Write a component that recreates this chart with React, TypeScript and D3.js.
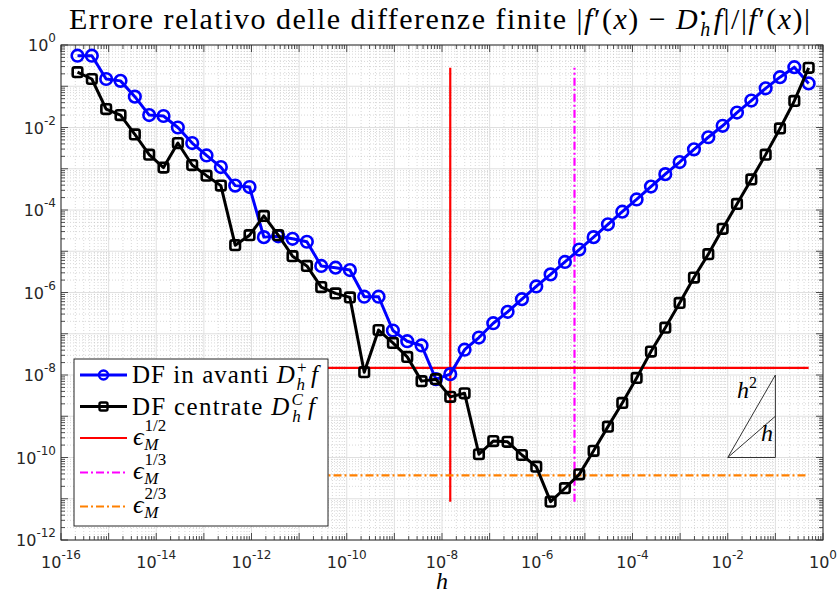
import React from "react";
import * as d3 from "d3";

// h = 2^k, k = -52 ... -1
const hExponents = [-52,-51,-50,-49,-48,-47,-46,-45,-44,-43,-42,-41,-40,-39,-38,-37,-36,-35,-34,-33,-32,-31,-30,-29,-28,-27,-26,-25,-24,-23,-22,-21,-20,-19,-18,-17,-16,-15,-14,-13,-12,-11,-10,-9,-8,-7,-6,-5,-4,-3,-2,-1];

// forward differences error
const errForward = [5.5e-1,5.5e-1,1.5e-1,1.35e-1,5.6e-2,2.0e-2,1.9e-2,1.0e-2,4.2e-3,2.1e-3,1.1e-3,3.9e-4,3.6e-4,2.2e-5,2.3e-5,2.0e-5,1.7e-5,4.4e-6,4.0e-6,3.5e-6,7.9e-7,7.9e-7,1.2e-7,6.6e-8,5.2e-8,7.9e-9,1.05e-8,4.1e-8,8.1e-8,1.8e-7,3.4e-7,6.9e-7,1.4e-6,2.75e-6,5.5e-6,1.1e-5,2.2e-5,4.5e-5,9.1e-5,1.8e-4,3.7e-4,7.4e-4,1.45e-3,2.95e-3,5.8e-3,1.1e-2,2.3e-2,4.5e-2,8.9e-2,1.66e-1,2.9e-1,1.17e-1];

// centred differences error
const errCentred = [2.2e-1,1.5e-1,2.8e-2,2.0e-2,6.8e-3,2.2e-3,1.07e-3,4.2e-3,1.23e-3,6.8e-4,3.9e-4,1.4e-5,2.45e-5,7.2e-5,2.45e-5,7.6e-6,4.4e-6,1.35e-6,9.5e-7,7.6e-7,1.17e-8,1.23e-7,6.0e-8,2.75e-8,7.1e-9,7.9e-9,2.95e-9,3.6e-9,1.2e-10,2.5e-10,2.4e-10,1.15e-10,6.0e-11,8.5e-12,1.8e-11,3.9e-11,1.45e-10,5.6e-10,2.1e-9,8.5e-9,3.7e-8,1.4e-7,5.6e-7,2.3e-6,8.5e-6,3.5e-5,1.4e-4,5.5e-4,2.2e-3,9.5e-3,4.4e-2,2.8e-1];

const epsM = 2.220446049250313e-16;
const epsHalf = Math.sqrt(epsM);
const epsThird = Math.cbrt(epsM);
const epsTwoThirds = Math.pow(epsM, 2 / 3);

const xTickExps = [-16,-14,-12,-10,-8,-6,-4,-2,0];
const yTickExps = [0,-2,-4,-6,-8,-10,-12];

// slope triangle (reference lines h and h^2)
const triX = [1e-2, 1e-1];
const triY = [1e-10, 1e-9, 1e-8];

const SERIF = "'Liberation Serif', 'DejaVu Serif', serif";
const SANS = "'DejaVu Sans', 'Liberation Sans', sans-serif";

export default function App() {
  const W = 839, H = 594;
  const x = d3.scaleLog().domain([1e-16, 1]).range([61, 823]);
  const y = d3.scaleLog().domain([1e-12, 1]).range([540, 45]);
  const hs = hExponents.map((e) => Math.pow(2, e));

  const line = d3.line<number>()
    .x((_, i) => x(hs[i]))
    .y((v) => y(v));

  const minC = d3.min(errCentred)!;
  const maxC = d3.max(errCentred)!;
  const hMin = hs[0], hMax = hs[hs.length - 1];

  const minorX: number[] = [];
  for (let e = -16; e < 0; e++) for (let m = 2; m <= 9; m++) minorX.push(m * Math.pow(10, e));
  const minorY: number[] = [];
  for (let e = -12; e < 0; e++) for (let m = 2; m <= 9; m++) minorY.push(m * Math.pow(10, e));
  const majorX: number[] = [];
  for (let e = -16; e <= 0; e++) majorX.push(Math.pow(10, e));
  const majorY: number[] = [];
  for (let e = -12; e <= 0; e++) majorY.push(Math.pow(10, e));

  const [x0, x1] = x.range();
  const [y0, y1] = [y(1e-12), y(1)];
  const axisColor = "#262626";

  const sq = 4.8;
  const dashDot = "8,3,2,3";

  return (
    <svg width={W} height={H} style={{ position: "absolute", left: 0, top: 0, background: "#fff" }}>
      <rect x={0} y={0} width={W} height={H} fill="#fff" />
      {/* minor grid */}
      <g stroke="#bdbdbd" strokeWidth={0.6} strokeDasharray="1,2">
        {minorX.map((v, i) => <line key={"mx" + i} x1={x(v)} x2={x(v)} y1={y1} y2={y0} />)}
        {minorY.map((v, i) => <line key={"my" + i} x1={x0} x2={x1} y1={y(v)} y2={y(v)} />)}
      </g>
      {/* major grid */}
      <g stroke="#dcdcdc" strokeWidth={0.9}>
        {majorX.map((v, i) => <line key={"gx" + i} x1={x(v)} x2={x(v)} y1={y1} y2={y0} />)}
        {majorY.map((v, i) => <line key={"gy" + i} x1={x0} x2={x1} y1={y(v)} y2={y(v)} />)}
      </g>
      {/* ticks */}
      <g stroke={axisColor} strokeWidth={0.8}>
        {majorX.map((v, i) => (
          <g key={"tx" + i}>
            <line x1={x(v)} x2={x(v)} y1={y0} y2={y0 - 7} />
            <line x1={x(v)} x2={x(v)} y1={y1} y2={y1 + 7} />
          </g>
        ))}
        {minorX.map((v, i) => (
          <g key={"tmx" + i}>
            <line x1={x(v)} x2={x(v)} y1={y0} y2={y0 - 4} />
            <line x1={x(v)} x2={x(v)} y1={y1} y2={y1 + 4} />
          </g>
        ))}
        {majorY.map((v, i) => (
          <g key={"ty" + i}>
            <line x1={x0} x2={x0 + 7} y1={y(v)} y2={y(v)} />
            <line x1={x1} x2={x1 - 7} y1={y(v)} y2={y(v)} />
          </g>
        ))}
        {minorY.map((v, i) => (
          <g key={"tmy" + i}>
            <line x1={x0} x2={x0 + 4} y1={y(v)} y2={y(v)} />
            <line x1={x1} x2={x1 - 4} y1={y(v)} y2={y(v)} />
          </g>
        ))}
      </g>
      {/* tick labels */}
      <g fill={axisColor} fontFamily={SANS} fontSize={16}>
        {xTickExps.map((e) => (
          <text key={"xl" + e} x={x(Math.pow(10, e))} y={568} textAnchor="middle">
            10<tspan dy={-9} fontSize={12}>{e}</tspan>
          </text>
        ))}
        {yTickExps.map((e) => (
          <text key={"yl" + e} x={56} y={y(Math.pow(10, e)) + 6} textAnchor="end">
            10<tspan dy={-9} fontSize={12}>{e}</tspan>
          </text>
        ))}
      </g>

      {/* reference lines */}
      <line x1={x(epsHalf)} x2={x(epsHalf)} y1={y(minC)} y2={y(maxC)} stroke="#ff0000" strokeWidth={2.2} />
      <line x1={x(epsThird)} x2={x(epsThird)} y1={y(minC)} y2={y(maxC)} stroke="#ff00ff" strokeWidth={2.2} strokeDasharray={dashDot} />
      <line x1={x(hMin)} x2={x(hMax)} y1={y(epsHalf)} y2={y(epsHalf)} stroke="#ff0000" strokeWidth={2.2} />
      <line x1={x(hMin)} x2={x(hMax)} y1={y(epsTwoThirds)} y2={y(epsTwoThirds)} stroke="#ff8000" strokeWidth={2.2} strokeDasharray={dashDot} />

      {/* series */}
      <path d={line(errForward) || ""} fill="none" stroke="#0000ff" strokeWidth={3} strokeLinejoin="round" />
      {errForward.map((v, i) => (
        <circle key={"cf" + i} cx={x(hs[i])} cy={y(v)} r={5.8} fill="none" stroke="#0000ff" strokeWidth={2.6} />
      ))}
      <path d={line(errCentred) || ""} fill="none" stroke="#000" strokeWidth={3} strokeLinejoin="round" />
      {errCentred.map((v, i) => (
        <rect key={"cc" + i} x={x(hs[i]) - sq} y={y(v) - sq} width={2 * sq} height={2 * sq} rx={2} fill="none" stroke="#000" strokeWidth={2.6} />
      ))}

      {/* slope triangle */}
      <g stroke="#333" strokeWidth={1} fill="none">
        <line x1={x(triX[0])} y1={y(triY[0])} x2={x(triX[1])} y2={y(triY[0])} />
        <line x1={x(triX[1])} y1={y(triY[0])} x2={x(triX[1])} y2={y(triY[2])} />
        <line x1={x(triX[0])} y1={y(triY[0])} x2={x(triX[1])} y2={y(triY[2])} />
        <line x1={x(triX[0])} y1={y(triY[0])} x2={x(triX[1])} y2={y(triY[1])} />
      </g>
      <text x={737} y={398} fontFamily={SERIF} fontSize={24} fontStyle="italic" fill="#000">
        h<tspan dy={-10} fontSize={16} fontStyle="normal">2</tspan>
      </text>
      <text x={761} y={441} fontFamily={SERIF} fontSize={24} fontStyle="italic" fill="#000">h</text>

      {/* axes box */}
      <rect x={x0} y={y1} width={x1 - x0} height={y0 - y1} fill="none" stroke={axisColor} strokeWidth={1} />

      {/* title */}
      <text x={69} y={29} textLength={741} lengthAdjust="spacing" fontFamily={SERIF} fontSize={30} fill="#000">
        Errore relativo delle differenze finite |<tspan fontStyle="italic">f</tspan>′(<tspan fontStyle="italic">x</tspan>) − <tspan fontStyle="italic">D</tspan>
        <tspan dx={1} dy={-10} fontSize={16}>•</tspan>
        <tspan dx={-7} dy={17} fontSize={20} fontStyle="italic">h</tspan>
        <tspan dx={2} dy={-7} fontStyle="italic">f</tspan>|/|<tspan fontStyle="italic">f</tspan>′(<tspan fontStyle="italic">x</tspan>)|
      </text>

      {/* x label */}
      <text x={442} y={589} textAnchor="middle" fontFamily={SERIF} fontSize={24} fontStyle="italic" fill="#000">h</text>

      {/* legend */}
      <g>
        <rect x={74} y={359} width={254} height={167} fill="#fff" stroke={axisColor} strokeWidth={1} />
        <line x1={80} x2={127} y1={375} y2={375} stroke="#0000ff" strokeWidth={3} />
        <circle cx={103.5} cy={375} r={4.5} fill="none" stroke="#0000ff" strokeWidth={2.4} />
        <text x={132} y={383} textLength={186} lengthAdjust="spacing" fontFamily={SERIF} fontSize={25} fill="#000">
          DF in avanti <tspan fontStyle="italic">D</tspan>
          <tspan dx={1} dy={-10} fontSize={17}>+</tspan>
          <tspan dx={-11} dy={17} fontSize={17} fontStyle="italic">h</tspan>
          <tspan dx={5} dy={-7} fontStyle="italic">f</tspan>
        </text>
        <line x1={80} x2={127} y1={406.5} y2={406.5} stroke="#000" strokeWidth={3} />
        <rect x={103.5 - 4} y={406.5 - 4} width={8} height={8} rx={1.5} fill="none" stroke="#000" strokeWidth={2.4} />
        <text x={132} y={415} textLength={183} lengthAdjust="spacing" fontFamily={SERIF} fontSize={25} fill="#000">
          DF centrate <tspan fontStyle="italic">D</tspan>
          <tspan dx={1} dy={-10} fontSize={17} fontStyle="italic">C</tspan>
          <tspan dx={-12} dy={17} fontSize={17} fontStyle="italic">h</tspan>
          <tspan dx={6} dy={-7} fontStyle="italic">f</tspan>
        </text>
        <line x1={80} x2={127} y1={438} y2={438} stroke="#ff0000" strokeWidth={2.2} />
        <text x={133} y={445} fontFamily={SERIF} fontSize={26} fontStyle="italic" fill="#000">
          ϵ<tspan dx={1} dy={-14} fontSize={17} fontStyle="normal">1/2</tspan>
          <tspan dx={-22} dy={19} fontSize={17}>M</tspan>
        </text>
        <line x1={80} x2={127} y1={472.5} y2={472.5} stroke="#ff00ff" strokeWidth={2.2} strokeDasharray={dashDot} />
        <text x={133} y={479} fontFamily={SERIF} fontSize={26} fontStyle="italic" fill="#000">
          ϵ<tspan dx={1} dy={-14} fontSize={17} fontStyle="normal">1/3</tspan>
          <tspan dx={-22} dy={19} fontSize={17}>M</tspan>
        </text>
        <line x1={80} x2={127} y1={506.5} y2={506.5} stroke="#ff8000" strokeWidth={2.2} strokeDasharray={dashDot} />
        <text x={133} y={513} fontFamily={SERIF} fontSize={26} fontStyle="italic" fill="#000">
          ϵ<tspan dx={1} dy={-14} fontSize={17} fontStyle="normal">2/3</tspan>
          <tspan dx={-22} dy={19} fontSize={17}>M</tspan>
        </text>
      </g>
    </svg>
  );
}
